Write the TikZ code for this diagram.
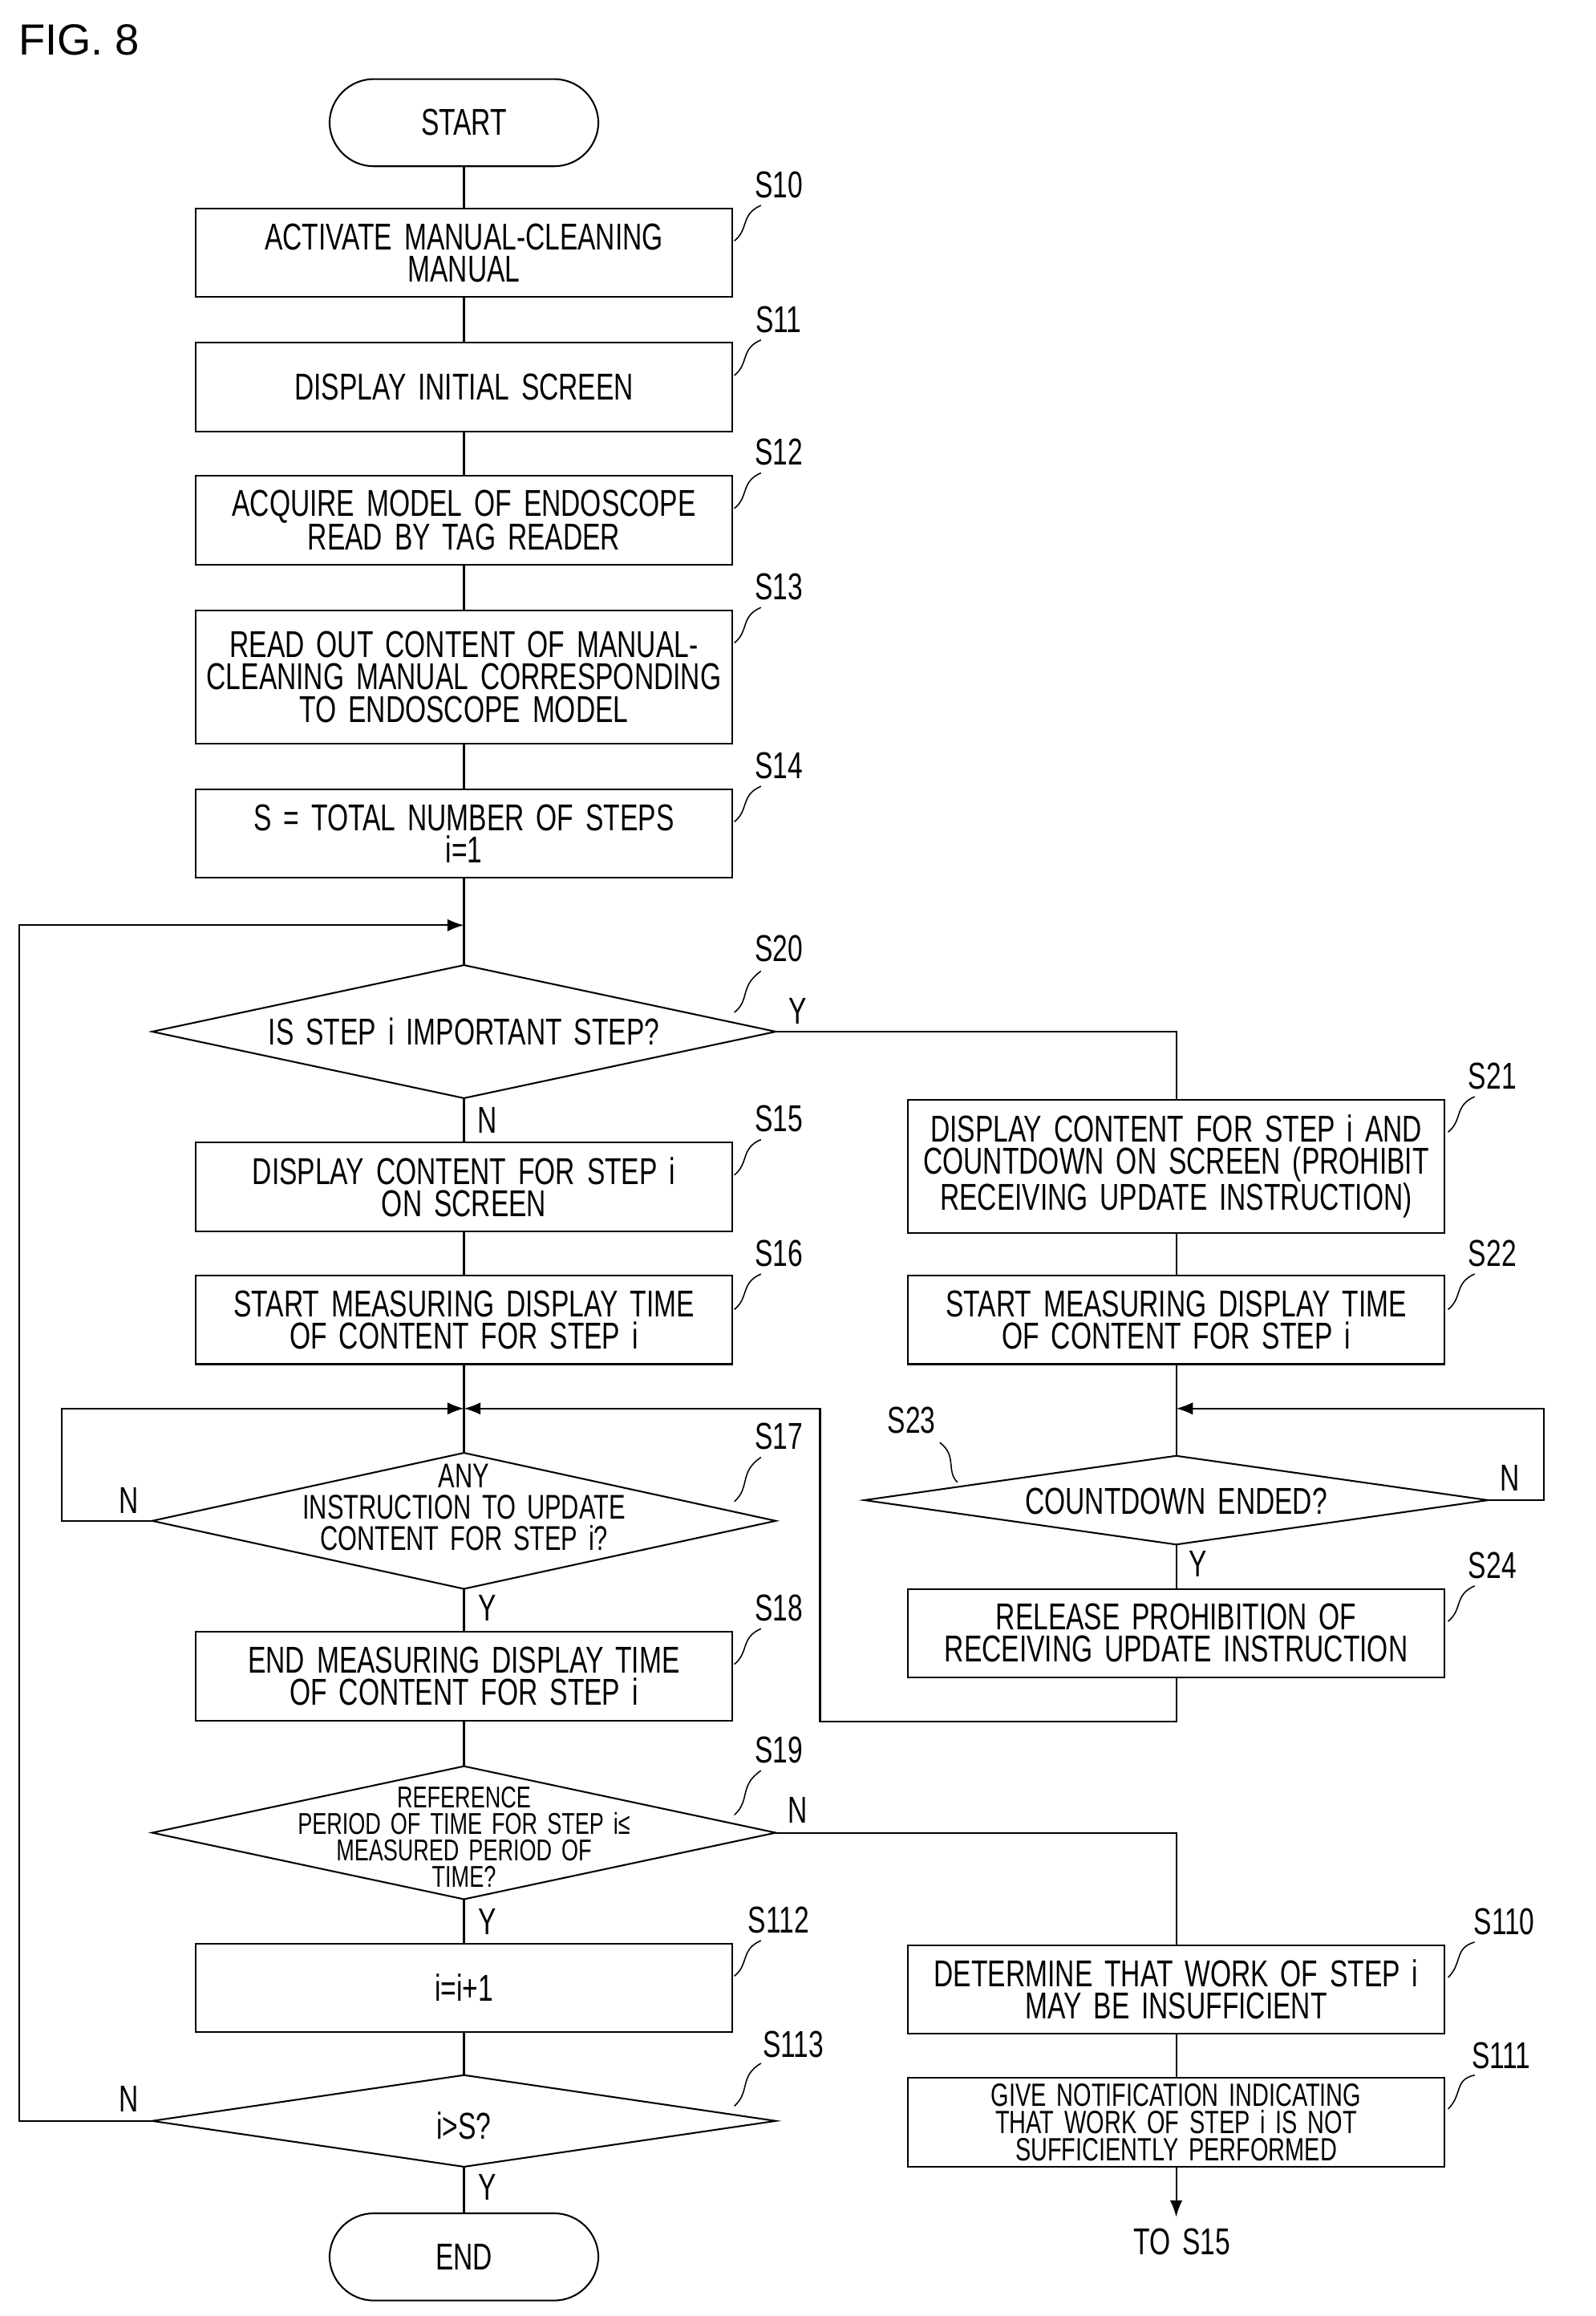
\documentclass[tikz,border=0pt]{standalone}
\usetikzlibrary{arrows.meta}
\usepackage{fontspec}
\setmainfont{Liberation Sans}[FakeStretch=0.72,WordSpace=1.6]
\newfontfamily\figfont{Liberation Sans}
\begin{document}
\begin{tikzpicture}[x=0.05cm,y=-0.05cm,line width=1.6pt,
  box/.style={draw,minimum width=18.15cm,minimum height=3cm,align=center,inner sep=0pt,font=\fontsize{36}{31}\selectfont},
  term/.style={draw,rounded corners=1.5cm,minimum width=9.1cm,minimum height=2.95cm,font=\fontsize{36}{31}\selectfont},
  txt/.style={align=center,inner sep=0pt,font=\fontsize{36}{31}\selectfont},
  dtxt/.style={align=center,inner sep=0pt,font=\fontsize{34}{24}\selectfont},
  lbl/.style={inner sep=0pt,font=\fontsize{36}{31}\selectfont},
  arr/.style={-{Latex[length=16pt,width=12pt]}}]
\useasboundingbox (0,0) rectangle (1080,1567);
\node[anchor=west,inner sep=0pt,font=\figfont\fontsize{42}{42}\selectfont] (fig) at (12,27) {FIG. 8};
\newcommand\steplab[3]{\node[lbl] at (#1+32,#2-16) {#3};
  \draw[line width=1.2pt] (#1+2,#2+22) .. controls (#1+12,#2+14) and (#1+6,#2+4) .. (#1+20,#2-2);}
% left column
\node[term] (start) at (314,83) {START};
\node[box] (s10) at (314,171) {ACTIVATE MANUAL-CLEANING\\MANUAL};
\node[box] (s11) at (314,262) {DISPLAY INITIAL SCREEN};
\node[box] (s12) at (314,352) {ACQUIRE MODEL OF ENDOSCOPE\\READ BY TAG READER};
\node[box,minimum height=4.5cm] (s13) at (314,458) {READ OUT CONTENT OF MANUAL-\\CLEANING MANUAL CORRESPONDING\\TO ENDOSCOPE MODEL};
\node[box] (s14) at (314,564) {S = TOTAL NUMBER OF STEPS\\i=1};
\steplab{495}{141}{S10}\steplab{495}{232}{S11}\steplab{495}{322}{S12}\steplab{495}{413}{S13}\steplab{495}{534}{S14}
\coordinate (loop) at (314,626);
% S20
\coordinate (d20t) at (314,653); \coordinate (d20b) at (314,743);
\coordinate (d20l) at (103,698); \coordinate (d20r) at (525,698);
\draw (d20t)--(d20r)--(d20b)--(d20l)--cycle;
\node[txt] (s20) at (314,698) {IS STEP i IMPORTANT STEP?};
\node[lbl] at (527,642) {S20};
\draw[line width=1.2pt] (497,685) .. controls (508,676) and (500,668) .. (515,657);
\node[box] (s15) at (314,803) {DISPLAY CONTENT FOR STEP i\\ON SCREEN};
\node[box] (s16) at (314,893) {START MEASURING DISPLAY TIME\\OF CONTENT FOR STEP i};
\steplab{495}{773}{S15}\steplab{495}{864}{S16}
\coordinate (merge) at (314,953);
\coordinate (d17t) at (314,983); \coordinate (d17b) at (314,1075);
\coordinate (d17l) at (103,1029); \coordinate (d17r) at (525,1029);
\draw (d17t)--(d17r)--(d17b)--(d17l)--cycle;
\node[dtxt,font=\fontsize{33}{30}\selectfont] (s17) at (314,1020) {ANY\\INSTRUCTION TO UPDATE\\CONTENT FOR STEP i?};
\node[lbl] at (527,972) {S17};
\draw[line width=1.2pt] (497,1016) .. controls (508,1006) and (500,996) .. (515,986);
\node[box] (s18) at (314,1134) {END MEASURING DISPLAY TIME\\OF CONTENT FOR STEP i};
\steplab{495}{1104}{S18}
\coordinate (d19t) at (314,1195); \coordinate (d19b) at (314,1285);
\coordinate (d19l) at (103,1240); \coordinate (d19r) at (525,1240);
\draw (d19t)--(d19r)--(d19b)--(d19l)--cycle;
\node[dtxt,font=\fontsize{29}{25.5}\selectfont] (s19) at (314,1243) {REFERENCE\\PERIOD OF TIME FOR STEP i≤\\MEASURED PERIOD OF\\TIME?};
\node[lbl] at (527,1184) {S19};
\draw[line width=1.2pt] (497,1228) .. controls (508,1218) and (500,1208) .. (515,1198);
\node[box] (s112) at (314,1345) {i=i+1};
\steplab{495}{1315}{S112}
\coordinate (d113t) at (314,1404); \coordinate (d113b) at (314,1466);
\coordinate (d113l) at (103,1435); \coordinate (d113r) at (525,1435);
\draw (d113t)--(d113r)--(d113b)--(d113l)--cycle;
\node[txt] (s113) at (314,1438) {i>S?};
\node[lbl] at (537,1383) {S113};
\draw[line width=1.2pt] (497,1425) .. controls (508,1415) and (500,1405) .. (515,1396);
\node[term] (end) at (314,1527) {END};
% right column
\node[box,minimum height=4.5cm] (s21) at (796,789) {DISPLAY CONTENT FOR STEP i AND\\COUNTDOWN ON SCREEN (PROHIBIT\\RECEIVING UPDATE INSTRUCTION)};
\node[box] (s22) at (796,893) {START MEASURING DISPLAY TIME\\OF CONTENT FOR STEP i};
\steplab{978}{744}{S21}\steplab{978}{864}{S22}
\coordinate (d23t) at (796,985); \coordinate (d23b) at (796,1045);
\coordinate (d23l) at (585,1015); \coordinate (d23r) at (1007,1015);
\draw (d23t)--(d23r)--(d23b)--(d23l)--cycle;
\node[txt] (s23) at (796,1016) {COUNTDOWN ENDED?};
\node[lbl] at (617,961) {S23};
\draw[line width=1.2pt] (648,1003) .. controls (640,995) and (648,985) .. (636,976);
\node[box] (s24) at (796,1105) {RELEASE PROHIBITION OF\\RECEIVING UPDATE INSTRUCTION};
\steplab{978}{1075}{S24}
\node[box] (s110) at (796,1346) {DETERMINE THAT WORK OF STEP i\\MAY BE INSUFFICIENT};
\node[box,font=\fontsize{31}{26.5}\selectfont] (s111) at (796,1436) {GIVE NOTIFICATION INDICATING\\THAT WORK OF STEP i IS NOT\\SUFFICIENTLY PERFORMED};
\node[lbl] at (1018,1300) {S110};
\draw[line width=1.2pt] (980,1338) .. controls (990,1328) and (984,1318) .. (998,1314);
\node[lbl] at (1016,1391) {S111};
\draw[line width=1.2pt] (980,1427) .. controls (990,1417) and (984,1407) .. (998,1404);
\node[lbl] (tos15) at (800,1517) {TO S15};
% connectors
\draw (start)--(s10); \draw (s10)--(s11); \draw (s11)--(s12); \draw (s12)--(s13); \draw (s13)--(s14);
\draw (s14)--(d20t);
\draw (d20b)--(s15); \draw (s15)--(s16); \draw (s16)--(merge)--(d17t);
\draw (d17b)--(s18); \draw (s18)--(d19t); \draw (d19b)--(s112); \draw (s112)--(d113t); \draw (d113b)--(end);
\draw[arr] (d113l)--(13,1435)--(13,626)--(loop);
\draw[arr] (d17l)--(42,1029)--(42,953)--(merge);
\draw (d20r)--(796,698)--(s21.north);
\draw (s21)--(s22); \draw (s22)--(d23t); \draw (d23b)--(s24);
\draw[arr] (d23r)--(1045,1015)--(1045,953)--(796,953);
\draw[arr] (s24.south)--(796,1165)--(555,1165)--(555,953)--(merge);
\draw (d19r)--(796,1240)--(s110.north);
\draw (s110)--(s111);
\draw[arr] (s111.south)--(796,1500);
% Y/N
\node[lbl] at (540,684) {Y}; \node[lbl] at (330,758) {N};
\node[lbl] at (87,1015) {N}; \node[lbl] at (330,1088) {Y};
\node[lbl] at (1022,1000) {N}; \node[lbl] at (811,1058) {Y};
\node[lbl] at (540,1225) {N}; \node[lbl] at (330,1300) {Y};
\node[lbl] at (87,1420) {N}; \node[lbl] at (330,1480) {Y};
\end{tikzpicture}
\end{document}
